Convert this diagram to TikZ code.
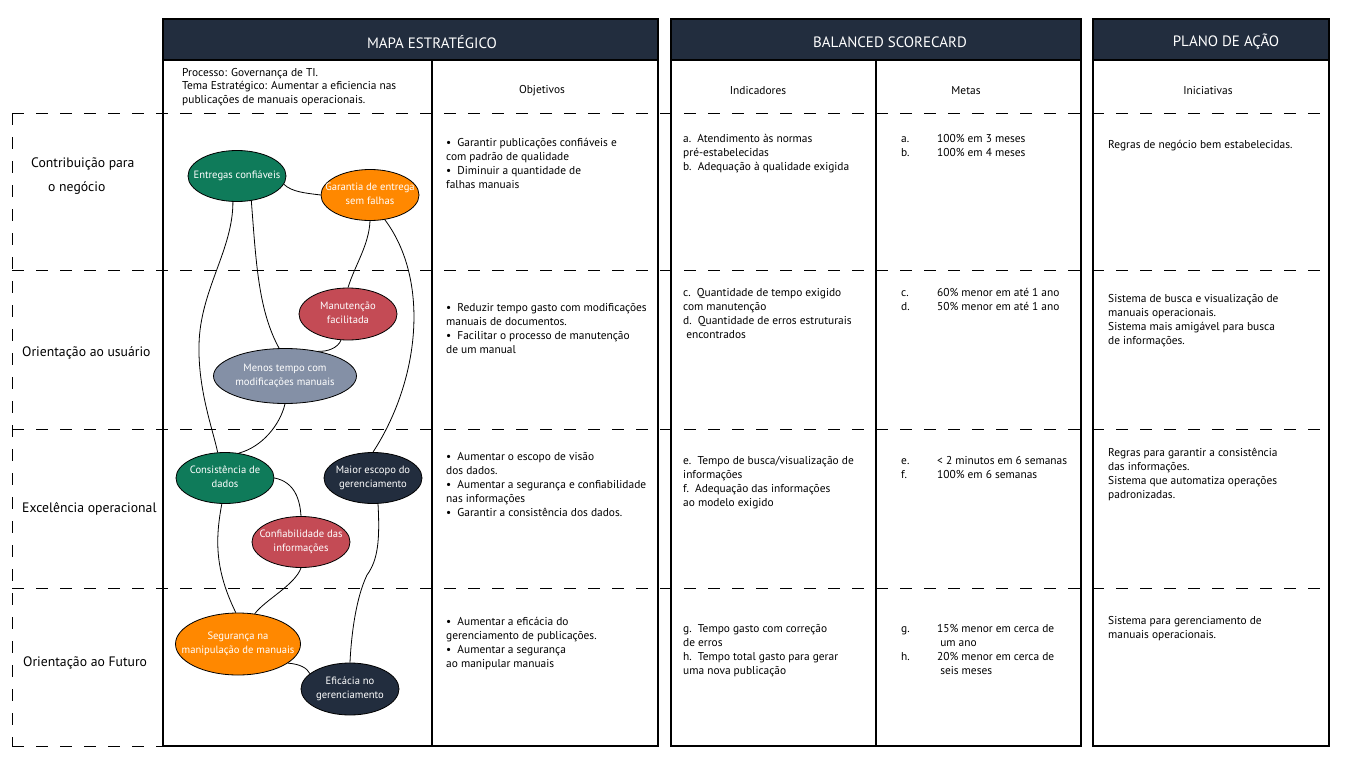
\documentclass[tikz,border=0pt]{standalone}
\usepackage{fontspec}
\setmainfont{PT Sans}
\usepackage{xcolor}
\usetikzlibrary{shapes.geometric}

\definecolor{navy}{HTML}{222D3E}
\definecolor{mapgreen}{HTML}{0F7B5A}
\definecolor{maporange}{HTML}{FF8800}
\definecolor{mapred}{HTML}{C44B55}
\definecolor{mapgray}{HTML}{8490A6}

% text of an oval, kept out of the oval's size
\newcommand{\ovaltext}[1]{\makebox[0pt]{\begin{tabular}{@{}c@{}}#1\end{tabular}}}

\tikzset{
  obj/.style={ellipse, draw=black, line width=0.8pt, text=white, inner sep=0pt,
    minimum width=98pt, minimum height=51pt,
    font=\fontsize{10.6}{14}\selectfont},
  cell/.style={anchor=north west, inner sep=0pt, align=left,
    font=\fontsize{11.4}{14}\selectfont},
  colhead/.style={inner sep=0pt, font=\fontsize{11.4}{14}\selectfont},
  head/.style={fill=navy, draw=black, line width=1.2pt},
  headtext/.style={text=white, inner sep=0pt, font=\fontsize{15}{17}\selectfont},
  rowtext/.style={anchor=west, inner sep=0pt, align=left, font=\fontsize{13.7}{16}\selectfont},
  sep/.style={dash pattern=on 12pt off 12pt, line width=1pt},
  link/.style={line width=0.8pt},
}

\begin{document}
\begin{tikzpicture}[x=1pt,y=-1pt]
\useasboundingbox (0,0) rectangle (1366,768);

% dashed row lines
\draw[sep] (12,113)--(1329,113);
\draw[sep] (12,270)--(1329,270);
\draw[sep] (12,429)--(1329,429);
\draw[sep] (12,588)--(1329,588);
\draw[sep] (12,746)--(163,746);
\draw[sep] (12,113)--(12,746);

% boxes
\draw[line width=1.2pt] (163,60) rectangle (658,746);
\draw[line width=1.2pt] (671,60) rectangle (1081,746);
\draw[line width=1.2pt] (1093,60) rectangle (1329,746);
\draw[line width=1.2pt] (432,60)--(432,746);
\draw[line width=1.2pt] (876,60)--(876,746);

\draw[head] (163,19) rectangle (658,60);
\draw[head] (671,19) rectangle (1081,60);
\draw[head] (1093,19) rectangle (1329,60);
\node[headtext] (mapa) at (432,42) {MAPA ESTRATÉGICO};
\node[headtext] (bsc) at (890,42) {BALANCED SCORECARD};
\node[headtext] (plano) at (1226,42) {PLANO DE AÇÃO};

\node[cell, font=\fontsize{11.4}{13.5}\selectfont] (tema) at (182,68)
  {Processo: Governança de TI.\\Tema Estratégico: Aumentar a eficiencia nas\\publicações de manuais operacionais.};
\node[colhead] (objetivos) at (542,91) {Objetivos};
\node[colhead] (indicadores) at (758,91) {Indicadores};
\node[colhead] (metas) at (966,91) {Metas};
\node[colhead] (iniciativas) at (1208,91) {Iniciativas};

% perspectives
\node[rowtext] (contrib) at (31,176) {Contribuição para\\[8pt]\hspace{17pt}o negócio};
\node[rowtext] (usuario) at (22,353) {Orientação ao usuário};
\node[rowtext] (excel) at (22,509) {Excelência operacional};
\node[rowtext] (futuro) at (23,663) {Orientação ao Futuro};

% strategic map
\node[obj, fill=mapgreen] (ent) at (237,176) {\ovaltext{Entregas confiáveis}};
\node[obj, fill=maporange] (gar) at (370,195) {\ovaltext{Garantia de entrega\\sem falhas}};
\node[obj, fill=mapred, minimum height=52pt] (man) at (348,314) {\ovaltext{Manutenção\\facilitada}};
\node[obj, fill=mapgray, minimum width=143pt, minimum height=55pt] (men) at (285,376) {\ovaltext{Menos tempo com\\modificações manuais}};
\node[obj, fill=mapgreen] (con) at (225,478) {\ovaltext{Consistência de\\dados}};
\node[obj, fill=navy] (mai) at (373,478) {\ovaltext{Maior escopo do\\gerenciamento}};
\node[obj, fill=mapred] (conf) at (301,542) {\ovaltext{Confiabilidade das\\informações}};
\node[obj, fill=maporange, minimum width=125pt, minimum height=62pt] (seg) at (238,644) {\ovaltext{Segurança na\\manipulação de manuais}};
\node[obj, fill=navy, minimum height=52pt] (efi) at (350,689) {\ovaltext{Eficácia no\\gerenciamento}};

\draw[link] (ent.-10) .. controls (292,192) and (305,193) .. (gar.west);
\draw[link] (ent.-99) .. controls (233,250) and (200,290) .. (199,345) .. controls (198,390) and (213,430) .. (con.106);
\draw[link] (ent.-60) .. controls (256,260) and (258,310) .. (men.102);
\draw[link] (gar.south) .. controls (369,245) and (355,265) .. (man.north);
\draw[link] (gar.-59) .. controls (430,280) and (420,380) .. (mai.north);
\draw[link] (man.-105) .. controls (338,348) and (327,352) .. (men.37);
\draw[link] (men.south) .. controls (280,425) and (262,447) .. (con.61);
\draw[link] (con.east) .. controls (295,482) and (300,500) .. (conf.north);
\draw[link] (con.-97) .. controls (215,540) and (215,570) .. (seg.94);
\draw[link] (conf.south) .. controls (295,585) and (265,600) .. (seg.61);
\draw[link] (mai.-79) .. controls (380,540) and (378,560) .. (367,575) .. controls (355,600) and (351,640) .. (efi.north);
\draw[link] (seg.-21) .. controls (300,664) and (307,668) .. (efi.159);

% objetivos
\node[cell] (obj1) at (446,138) {\textbullet\ \ Garantir publicações confiáveis e\\com padrão de qualidade\\\textbullet\ \ Diminuir a quantidade de\\falhas manuais};
\node[cell] (obj2) at (446,303) {\textbullet\ \ Reduzir tempo gasto com modificações\\manuais de documentos.\\\textbullet\ \ Facilitar o processo de manutenção\\de um manual};
\node[cell] (obj3) at (446,452) {\textbullet\ \ Aumentar o escopo de visão\\dos dados.\\\textbullet\ \ Aumentar a segurança e confiabilidade\\nas informações\\\textbullet\ \ Garantir a consistência dos dados.};
\node[cell] (obj4) at (446,617) {\textbullet\ \ Aumentar a eficácia do\\gerenciamento de publicações.\\\textbullet\ \ Aumentar a segurança\\ao manipular manuais};

% indicadores
\node[cell] (ind1) at (683,134) {a.\ \ Atendimento às normas\\pré-estabelecidas\\b.\ \ Adequação à qualidade exigida};
\node[cell] (ind2) at (683,288) {c.\ \ Quantidade de tempo exigido\\com manutenção\\d.\ \ Quantidade de erros estruturais\\\ encontrados};
\node[cell] (ind3) at (683,456) {e.\ \ Tempo de busca/visualização de\\informações\\f.\ \ Adequação das informações\\ao modelo exigido};
\node[cell] (ind4) at (683,624) {g.\ \ Tempo gasto com correção\\de erros\\h.\ \ Tempo total gasto para gerar\\uma nova publicação};

% metas
\node[cell] (met1) at (901,132) {\begin{tabular}{@{}p{36pt}@{}l@{}}a. & 100\% em 3 meses\\ b. & 100\% em 4 meses\end{tabular}};
\node[cell] (met2) at (901,286) {\begin{tabular}{@{}p{36pt}@{}l@{}}c. & 60\% menor em até 1 ano\\ d. & 50\% menor em até 1 ano\end{tabular}};
\node[cell] (met3) at (901,454) {\begin{tabular}{@{}p{36pt}@{}l@{}}e. & < 2 minutos em 6 semanas\\ f. & 100\% em 6 semanas\end{tabular}};
\node[cell] (met4) at (901,622) {\begin{tabular}{@{}p{36pt}@{}l@{}}g. & 15\% menor em cerca de\\ & \ um ano\\ h. & 20\% menor em cerca de\\ & \ seis meses\end{tabular}};

% iniciativas
\node[cell] (ini1) at (1108,140) {Regras de negócio bem estabelecidas.};
\node[cell] (ini2) at (1108,294) {Sistema de busca e visualização de\\manuais operacionais.\\Sistema mais amigável para busca\\de informações.};
\node[cell] (ini3) at (1108,448) {Regras para garantir a consistência\\das informações.\\Sistema que automatiza operações\\padronizadas.};
\node[cell] (ini4) at (1108,616) {Sistema para gerenciamento de\\manuais operacionais.};
\end{tikzpicture}
\end{document}
